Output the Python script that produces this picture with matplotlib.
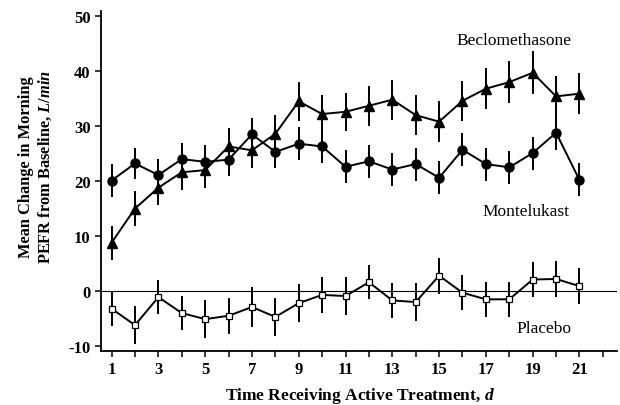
import matplotlib
matplotlib.use("Agg")
import matplotlib.pyplot as plt

plt.rcParams['font.family'] = ['Liberation Serif', 'DejaVu Serif']
plt.rcParams['mathtext.fontset'] = 'custom'
plt.rcParams['mathtext.rm'] = 'Liberation Serif:bold'
plt.rcParams['mathtext.it'] = 'Liberation Serif:bold:italic'
plt.rcParams['axes.unicode_minus'] = False

days = list(range(1, 22))
montelukast = [20.0, 23.1, 21.0, 23.9, 23.4, 23.8, 28.4, 25.2, 26.7, 26.2, 22.5,
               23.5, 22.0, 23.0, 20.5, 25.6, 23.0, 22.4, 25.0, 28.7, 20.1]
montelukast_err = [3.0, 2.8, 3.0, 3.0, 3.0, 3.0, 3.0, 3.0, 3.0, 3.0, 3.0,
                   3.0, 3.0, 3.0, 3.0, 3.0, 3.0, 3.0, 3.0, 3.1, 3.0]
beclomethasone = [8.7, 14.9, 18.7, 21.5, 21.9, 26.2, 25.5, 28.5, 34.4, 32.1, 32.5,
                  33.6, 34.7, 31.9, 30.7, 34.5, 36.7, 37.9, 39.6, 35.3, 35.8]
beclomethasone_err = [3.1, 3.2, 3.2, 3.3, 3.3, 3.3, 3.3, 3.4, 3.5, 3.5, 3.5,
                      3.6, 3.6, 3.6, 3.7, 3.6, 3.7, 3.8, 3.9, 3.7, 3.7]
placebo = [-3.3, -6.3, -1.2, -4.1, -5.2, -4.6, -3.0, -4.8, -2.3, -0.8, -1.0,
           1.5, -1.8, -2.1, 2.7, -0.4, -1.6, -1.6, 2.0, 2.1, 0.8]
placebo_err = [3.1, 3.4, 3.1, 3.1, 3.4, 3.3, 3.6, 3.5, 3.5, 3.3, 3.5,
               3.1, 3.2, 3.5, 3.3, 3.2, 3.2, 3.2, 3.2, 3.3, 3.3]

xticks_major = [1, 3, 5, 7, 9, 11, 13, 15, 17, 19, 21]
yticks = [-10, 0, 10, 20, 30, 40, 50]

fig = plt.figure(figsize=(6.2, 4.06), dpi=100)
ax = fig.add_axes([0.163, 0.133, 0.832, 0.837])

ax.axhline(0, color='black', lw=0.8, zorder=1)

ekw = dict(color='black', lw=1.4, elinewidth=1.4, capsize=0, zorder=3)
ax.errorbar(days, beclomethasone, yerr=beclomethasone_err, marker='^', ms=6.5,
            mfc='black', mec='black', **ekw)
ax.errorbar(days, montelukast, yerr=montelukast_err, marker='o', ms=6.5,
            mfc='black', mec='black', **ekw)
ax.errorbar(days, placebo, yerr=placebo_err, marker='s', ms=5,
            mfc='white', mec='black', mew=0.9, **ekw)

ax.set_xlim(0.55, 22.6)
ax.set_ylim(-11, 50.8)
ax.set_xticks(xticks_major)
ax.set_xticks(list(range(1, 23)), minor=True)
ax.set_yticks(yticks)
ax.tick_params(axis='both', which='both', direction='out', length=4, width=1.1,
               labelsize=12)
ax.tick_params(axis='x', which='minor', length=4)
for lab in ax.get_xticklabels() + ax.get_yticklabels():
    lab.set_fontweight('bold')

for s in ['top', 'right']:
    ax.spines[s].set_visible(False)
for s in ['left', 'bottom']:
    ax.spines[s].set_linewidth(1.3)

ax.text(18.2, 45.6, 'Beclomethasone', fontsize=12.5, ha='center', va='center')
ax.text(18.7, 14.4, 'Montelukast', fontsize=12.5, ha='center', va='center')
ax.text(19.5, -6.8, 'Placebo', fontsize=12.5, ha='center', va='center')

fig.text(0.58, 0.025, 'Time Receiving Active Treatment, $\\mathit{d}$',
         fontsize=12.5, fontweight='bold', ha='center', va='center')
fig.text(0.058, 0.589, 'Mean Change in Morning\nPEFR from Baseline, $\\mathit{L/min}$',
         fontsize=11.8, fontweight='bold', ha='center', va='center',
         rotation=90, multialignment='center', linespacing=1.15)

fig.savefig('out.png', dpi=100)
